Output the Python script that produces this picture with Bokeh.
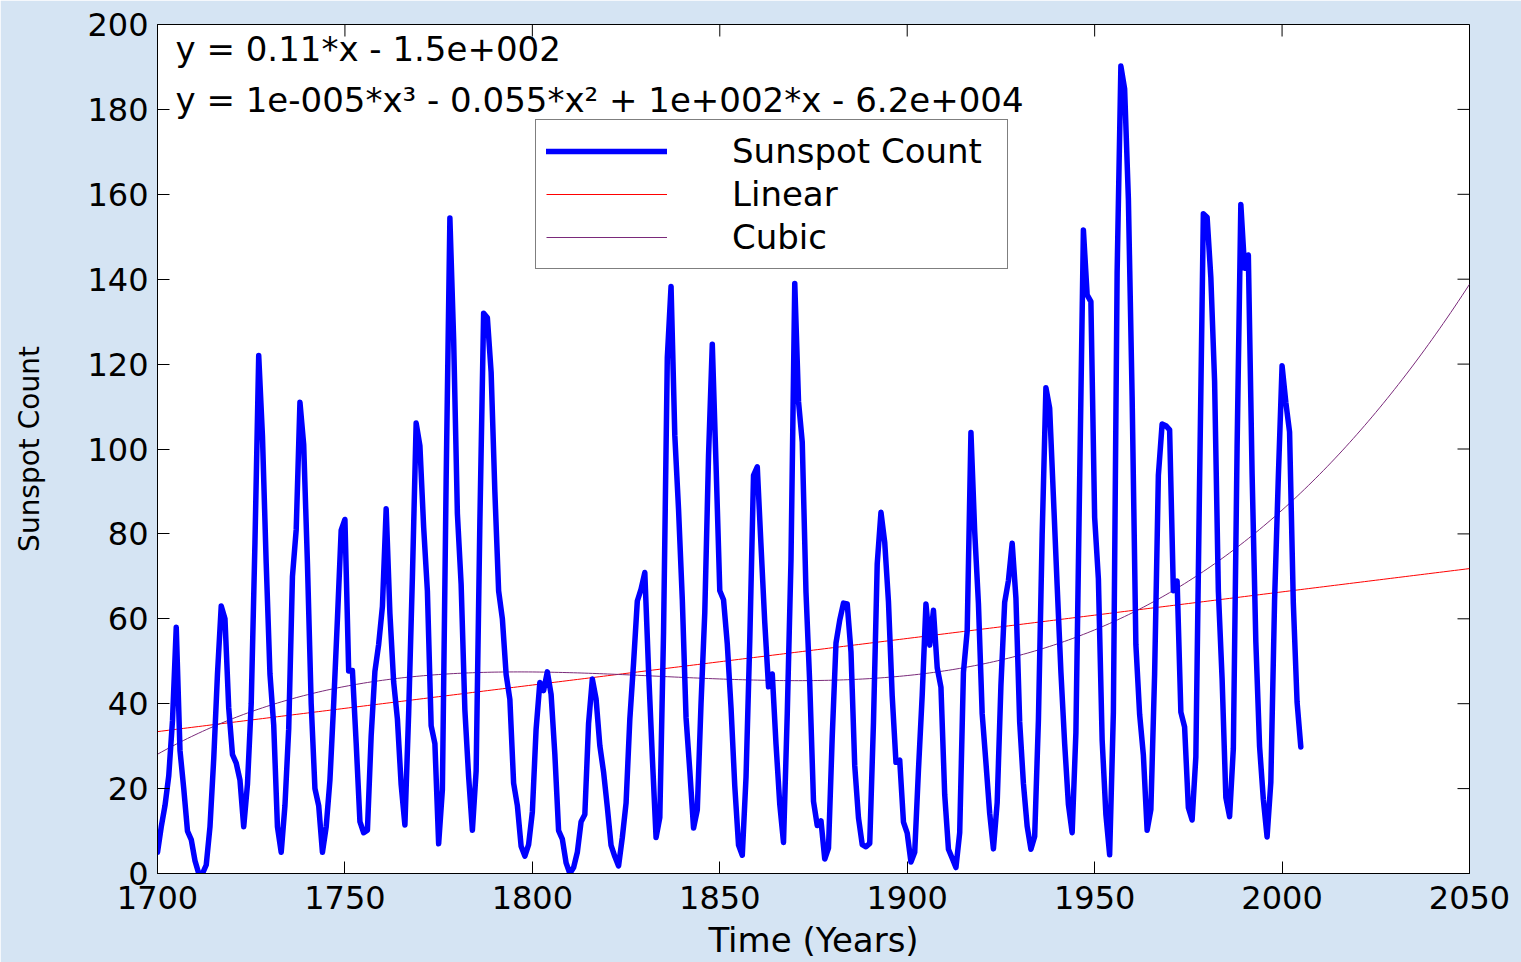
import numpy as np
from bokeh.plotting import figure
from bokeh.models import Range1d, FixedTicker, Label, Legend, LegendItem
from bokeh.embed import file_html
from bokeh.resources import INLINE

# ---------------- data ----------------
years = list(range(1700, 2006))
sunspots = [
    5, 11, 16, 23, 36, 58, 29, 20, 10, 8,
    3, 0, 0, 2, 11, 27, 47, 63, 60, 39,
    28, 26, 22, 11, 21, 40, 78, 122, 103, 73,
    47, 35, 11, 5, 16, 34, 70, 81, 111, 101,
    73, 40, 20, 16, 5, 11, 22, 40, 60, 80.9,
    83.4, 47.7, 47.8, 30.7, 12.2, 9.6, 10.2, 32.4, 47.6, 54,
    62.9, 85.9, 61.2, 45.1, 36.4, 20.9, 11.4, 37.8, 69.8, 106.1,
    100.8, 81.6, 66.5, 34.8, 30.6, 7, 19.8, 92.5, 154.4, 125.9,
    84.8, 68.1, 38.5, 22.8, 10.2, 24.1, 82.9, 132, 130.9, 118.1,
    89.9, 66.6, 60, 46.9, 41, 21.3, 16, 6.4, 4.1, 6.8,
    14.5, 34, 45, 43.1, 47.5, 42.2, 28.1, 10.1, 8.1, 2.5,
    0, 1.4, 5, 12.2, 13.9, 35.4, 45.8, 41.1, 30.1, 23.9,
    15.6, 6.6, 4, 1.8, 8.5, 16.6, 36.3, 49.6, 64.2, 67,
    70.9, 47.8, 27.5, 8.5, 13.2, 56.9, 121.5, 138.3, 103.2, 85.7,
    64.6, 36.7, 24.2, 10.7, 15, 40.1, 61.5, 98.5, 124.7, 96.3,
    66.6, 64.5, 54.1, 39, 20.6, 6.7, 4.3, 22.7, 54.8, 93.8,
    95.8, 77.2, 59.1, 44, 47, 30.5, 16.3, 7.3, 37.6, 74,
    139, 111.2, 101.6, 66.2, 44.7, 17, 11.3, 12.4, 3.4, 6,
    32.3, 54.3, 59.7, 63.7, 63.5, 52.2, 25.4, 13.1, 6.8, 6.3,
    7.1, 35.6, 73, 85.1, 78, 64, 41.8, 26.2, 26.7, 12.1,
    9.5, 2.7, 5, 24.4, 42, 63.5, 53.8, 62, 48.5, 43.9,
    18.6, 5.7, 3.6, 1.4, 9.6, 47.4, 57.1, 103.9, 80.6, 63.6,
    37.6, 26.1, 14.2, 5.8, 16.7, 44.3, 63.9, 69, 77.8, 64.9,
    35.7, 21.2, 11.1, 5.7, 8.7, 36.1, 79.7, 114.4, 109.6, 88.8,
    67.8, 47.5, 30.6, 16.3, 9.6, 33.2, 92.6, 151.6, 136.3, 134.7,
    83.9, 69.4, 31.5, 13.9, 4.4, 38, 141.7, 190.2, 184.8, 159,
    112.3, 53.9, 37.5, 27.9, 10.2, 15.1, 47, 93.8, 105.9, 105.5,
    104.5, 66.6, 68.9, 38, 34.5, 15.5, 12.6, 27.5, 92.5, 155.4,
    154.6, 140.4, 115.9, 66.6, 45.9, 17.9, 13.4, 29.4, 100.2, 157.6,
    142.6, 145.7, 94.3, 54.6, 29.9, 17.5, 8.6, 21.5, 64.3, 93.3,
    119.6, 111, 104, 63.7, 40.4, 29.8,
]
x_ticks = [1700, 1750, 1800, 1850, 1900, 1950, 2000, 2050]
y_ticks = [0, 20, 40, 60, 80, 100, 120, 140, 160, 180, 200]
x_min, x_max = 1700, 2050
y_min, y_max = 0, 200
legend_labels = ["Sunspot Count", "Linear", "Cubic"]
eq_linear = "y = 0.11*x - 1.5e+002"
eq_cubic = "y = 1e-005*x\u00b3 - 0.055*x\u00b2 + 1e+002*x - 6.2e+004"
x_title = "Time (Years)"
y_title = "Sunspot Count"

# ---------------- fits derived from the data ----------------
xa = np.array(years, dtype=float)
ya = np.array(sunspots, dtype=float)
xc = xa.mean()
lin_coef = np.polyfit(xa - xc, ya, 1)
cub_coef = np.polyfit(xa - xc, ya, 3)
fx = np.arange(x_min, x_max + 1, dtype=float)
lin_y = np.polyval(lin_coef, fx - xc)
cub_y = np.polyval(cub_coef, fx - xc)

FONT = "DejaVu Sans"

p = figure(width=1521, height=962, output_backend="svg", toolbar_location=None,
           x_range=Range1d(x_min, x_max), y_range=Range1d(y_min, y_max),
           min_border_left=157, min_border_right=52, min_border_top=24, min_border_bottom=89,
           background_fill_color="white", border_fill_color="#d5e4f3",
           outline_line_color="black", outline_line_width=1)
p.grid.visible = False

for ax, ticks, standoff in [(p.xaxis[0], x_ticks, 12), (p.yaxis[0], y_ticks, 9)]:
    ax.ticker = FixedTicker(ticks=ticks)
    ax.major_tick_in = 12
    ax.major_tick_out = 0
    ax.minor_tick_line_color = None
    ax.axis_line_color = "black"
    ax.major_tick_line_color = "black"
    ax.major_label_text_font = FONT
    ax.major_label_text_font_size = "32px"
    ax.major_label_text_color = "black"
    ax.major_label_standoff = standoff
    ax.axis_label_text_font = FONT
    ax.axis_label_text_font_style = "normal"
    ax.axis_label_text_color = "black"

p.xaxis[0].axis_label = x_title
p.xaxis[0].axis_label_text_font_size = "34px"
p.xaxis[0].axis_label_standoff = 8

p.yaxis[0].axis_label = y_title
p.yaxis[0].axis_label_text_font_size = "28px"
p.yaxis[0].axis_label_standoff = 38

# inward tick marks on the top and right edges of the box
p.ray(x=x_ticks, y=[y_max] * len(x_ticks), length=12, length_units="screen",
      angle=-np.pi / 2, line_color="black", line_width=1)
p.ray(x=[x_max] * len(y_ticks), y=y_ticks, length=12, length_units="screen",
      angle=np.pi, line_color="black", line_width=1)

r_lin = p.line(fx, lin_y, line_width=1, line_color="#ff0000")
r_cub = p.line(fx, cub_y, line_width=1, line_color="#7a2a7a")
r_sun = p.line(years, sunspots, line_width=5.5, line_color="#0000ff",
               line_join="round", line_cap="round")

legend = Legend(items=[LegendItem(label=legend_labels[0], renderers=[r_sun]),
                       LegendItem(label=legend_labels[1], renderers=[r_lin]),
                       LegendItem(label=legend_labels[2], renderers=[r_cub])],
                location=(378, 604), padding=10, spacing=1,
                glyph_width=121, glyph_height=42, label_height=42, label_width=265,
                label_standoff=65, margin=0,
                label_text_font=FONT, label_text_font_size="34px", label_text_color="black",
                border_line_color="black", border_line_width=1,
                background_fill_color="white", background_fill_alpha=1)
p.add_layout(legend)

for txt, yv in [(eq_linear, 194.3), (eq_cubic, 182.3)]:
    p.add_layout(Label(x=1704.8, y=yv, text=txt, text_baseline="middle", text_align="left",
                       text_font=FONT, text_font_size="34px", text_color="black"))

open("out.html", "w").write(file_html(p, INLINE))
